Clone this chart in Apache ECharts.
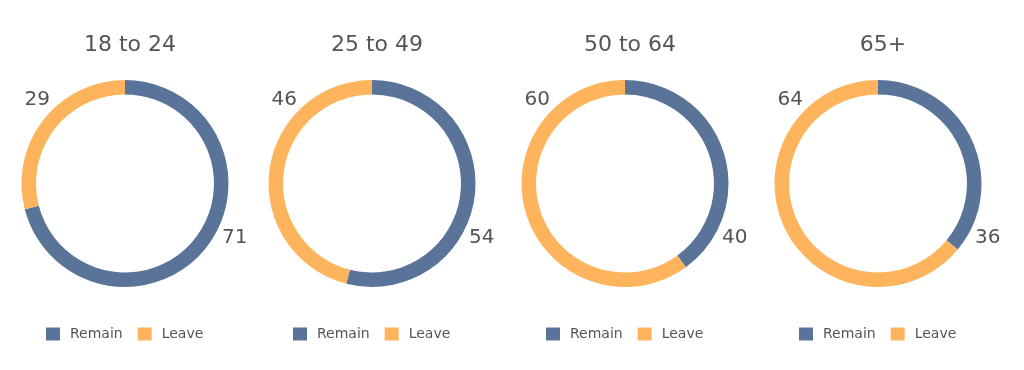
<!DOCTYPE html>
<html>
<head>
<meta charset="utf-8">
<script src="https://cdn.jsdelivr.net/npm/echarts@6/dist/echarts.min.js"></script>
<style>html,body{margin:0;padding:0;background:#fff}#c{width:1024px;height:370px}</style>
</head>
<body>
<div id="c"></div>
<script>
const groups = ['18 to 24', '25 to 49', '50 to 64', '65+'];
const seriesNames = ['Remain', 'Leave'];
const remain = [71, 54, 40, 36];
const leave = [29, 46, 60, 64];

const colors = ['#597399', '#FDB45C'];
const textColor = '#555555';
const font = 'DejaVu Sans, Verdana, sans-serif';
const centersX = [125, 372, 625, 878];
const cy = 183.5;

const chart = echarts.init(document.getElementById('c'), null, {renderer: 'canvas'});

const titles = groups.map((g, i) => ({
  text: g, left: centersX[i], top: 29, textAlign: 'center',
  textStyle: {fontFamily: font, fontSize: 22, fontWeight: 'normal', color: textColor}
}));
const legends = groups.map((g, i) => ({
  data: seriesNames, left: 0, top: 322, orient: 'horizontal',
  itemWidth: 14, itemHeight: 13, itemGap: 15, icon: 'rect',
  textStyle: {fontFamily: font, fontSize: 14, color: textColor, padding: [0, 0, 0, 5]}
}));
const series = groups.map((g, i) => ({
  type: 'pie', name: g,
  center: [centersX[i], cy], radius: [89, 103.5],
  startAngle: 90, clockwise: true, avoidLabelOverlap: false,
  animation: false,
  label: {show: true, position: 'outside', formatter: '{c}',
    fontFamily: font, fontSize: 20, color: textColor},
  labelLine: {show: false},
  emphasis: {disabled: true},
  data: [
    {name: seriesNames[0], value: remain[i], itemStyle: {color: colors[0]}},
    {name: seriesNames[1], value: leave[i], itemStyle: {color: colors[1]}}
  ],
  labelLayout: function (p) {
    const cx = centersX[p.seriesIndex];
    if (p.dataIndex === 0) {
      return {x: cx + 97, y: cy + 54.5, align: 'left', verticalAlign: 'middle'};
    }
    return {x: cx - 75, y: cy - 84, align: 'right', verticalAlign: 'middle'};
  }
}));

chart.setOption({
  backgroundColor: '#ffffff',
  color: colors,
  title: titles,
  legend: legends,
  series: series
});
// center each legend on its pie
const model = chart.getModel();
const newLegends = groups.map((g, i) => {
  const comp = model.getComponent('legend', i);
  const view = chart.getViewOfComponentModel(comp);
  const rect = view.group.getBoundingRect();
  return {left: Math.round(centersX[i] - rect.width / 2)};
});
chart.setOption({legend: newLegends});
</script>
</body>
</html>
